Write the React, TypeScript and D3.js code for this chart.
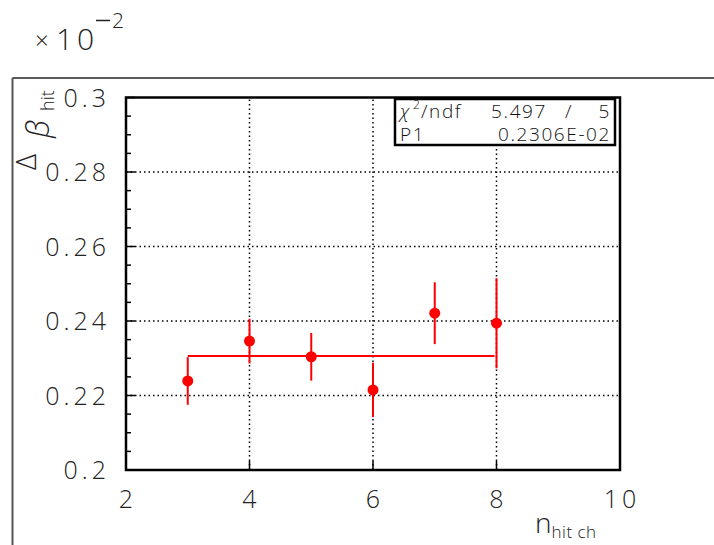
import React from "react";
import * as d3 from "d3";

// Data (values in units of 10^-2)
const nHit = [3, 4, 5, 6, 7, 8];
const deltaBeta = [0.2239, 0.2346, 0.2304, 0.2215, 0.2421, 0.2394];
const deltaBetaErr = [0.0064, 0.006, 0.0064, 0.0073, 0.0083, 0.0121];
const fitValue = 0.2306;
const fitRange = [3, 8];
const xTicks = [2, 4, 6, 8, 10];
const yTicks = [0.2, 0.22, 0.24, 0.26, 0.28, 0.3];
const yMinorTicks = d3.range(0.2, 0.3001, 0.005);
const chi2 = "5.497";
const ndf = "5";
const p1 = "0.2306E-02";

const W = 714;
const H = 545;
const FONT = "'Open Sans', 'DejaVu Sans', sans-serif";
const TXT = "#222";

export default function App() {
  const x = d3.scaleLinear().domain([2, 10]).range([126, 620]);
  const y = d3.scaleLinear().domain([0.2, 0.3]).range([470, 97.5]);
  const [x0, x1] = x.range();
  const [y0, y1] = y.range();
  const red = "#ff0000";
  const grid = "1.5,3";

  return (
    <svg
      width={W}
      height={H}
      style={{ position: "fixed", left: 0, top: 0, background: "#fff" }}
      fontFamily={FONT}
      fontWeight={300}
    >
      <rect x={0} y={0} width={W} height={H} fill="#fff" />
      {/* pad frame */}
      <line x1={12.5} y1={78} x2={W} y2={78} stroke="#222" strokeWidth={1.5} />
      <line x1={12.5} y1={78} x2={12.5} y2={H} stroke="#555" strokeWidth={2} />

      {/* exponent label */}
      <g fill={TXT}>
        <text x={35} y={49} fontSize={24}>×</text>
        <text x={56} y={50} fontSize={30} letterSpacing={4}>10</text>
        <line x1={96} x2={110} y1={20.5} y2={20.5} stroke={TXT} strokeWidth={1.5} />
        <text x={112} y={28} fontSize={21}>2</text>
      </g>

      {/* grid */}
      {xTicks.slice(1, -1).map((t) => (
        <line key={"gx" + t} x1={x(t)} x2={x(t)} y1={y0} y2={y1} stroke="#000" strokeWidth={1.5} strokeDasharray={grid} />
      ))}
      {yTicks.slice(1, -1).map((t) => (
        <line key={"gy" + t} x1={x0} x2={x1} y1={y(t)} y2={y(t)} stroke="#000" strokeWidth={1.5} strokeDasharray={grid} />
      ))}

      {/* y ticks */}
      {yMinorTicks.map((t, i) => (
        <line key={"ym" + i} x1={x0} x2={x0 + (i % 4 === 0 ? 9 : 5)} y1={y(t)} y2={y(t)} stroke="#000" strokeWidth={1.5} />
      ))}
      {/* x ticks */}
      {xTicks.map((t) => (
        <line key={"xt" + t} x1={x(t)} x2={x(t)} y1={y0} y2={y0 - 9} stroke="#000" strokeWidth={1.5} />
      ))}

      {/* frame */}
      <rect x={x0} y={y1} width={x1 - x0} height={y0 - y1} fill="none" stroke="#000" strokeWidth={2.5} />

      {/* y tick labels */}
      <g fill={TXT} fontSize={25} letterSpacing={4} textAnchor="end">
        {yTicks.map((t) => (
          <text key={"yl" + t} x={110} y={y(t) + 9}>
            {d3.format("")(+t.toFixed(2))}
          </text>
        ))}
      </g>
      {/* x tick labels */}
      <g fill={TXT} fontSize={25} letterSpacing={4} textAnchor="middle">
        {xTicks.map((t) => (
          <text key={"xl" + t} x={x(t) + 2} y={508}>
            {t}
          </text>
        ))}
      </g>

      {/* y axis title */}
      <g fill={TXT}>
        <text transform="translate(36,170) rotate(-90)" fontSize={28}>Δ</text>
        <text transform="translate(49,138) rotate(-90)" fontSize={31} fontStyle="italic">β</text>
        <text transform="translate(54,111) rotate(-90)" fontSize={18}>hit</text>
      </g>
      {/* x axis title */}
      <text x={535} y={533} fill={TXT} fontSize={28}>
        n<tspan fontSize={17} dy={5} letterSpacing={0.5}>hit ch</tspan>
      </text>

      {/* fit line */}
      <line x1={x(fitRange[0])} x2={x(fitRange[1]) - 2} y1={y(fitValue)} y2={y(fitValue)} stroke={red} strokeWidth={2} />

      {/* data points */}
      {nHit.map((n, i) => (
        <g key={"p" + n}>
          <line
            x1={x(n)}
            x2={x(n)}
            y1={y(deltaBeta[i] - deltaBetaErr[i])}
            y2={y(deltaBeta[i] + deltaBetaErr[i])}
            stroke={red}
            strokeWidth={2}
          />
          <circle cx={x(n)} cy={y(deltaBeta[i])} r={5.5} fill={red} />
        </g>
      ))}

      {/* stats box */}
      <rect x={395} y={99} width={220} height={46} fill="#fff" stroke="#000" strokeWidth={2.5} />
      <g fill="#111" fontSize={19} letterSpacing={1.6}>
        <text x={400} y={118} fontStyle="italic">χ</text>
        <text x={413} y={109} fontSize={12}>2</text>
        <text x={421} y={118}>/ndf</text>
        <text x={547} y={118} textAnchor="end">{chi2}</text>
        <text x={569} y={118} textAnchor="middle">/</text>
        <text x={611} y={118} textAnchor="end">{ndf}</text>
        <text x={400} y={141}>P1</text>
        <text x={611} y={141} textAnchor="end">{p1}</text>
      </g>
    </svg>
  );
}
